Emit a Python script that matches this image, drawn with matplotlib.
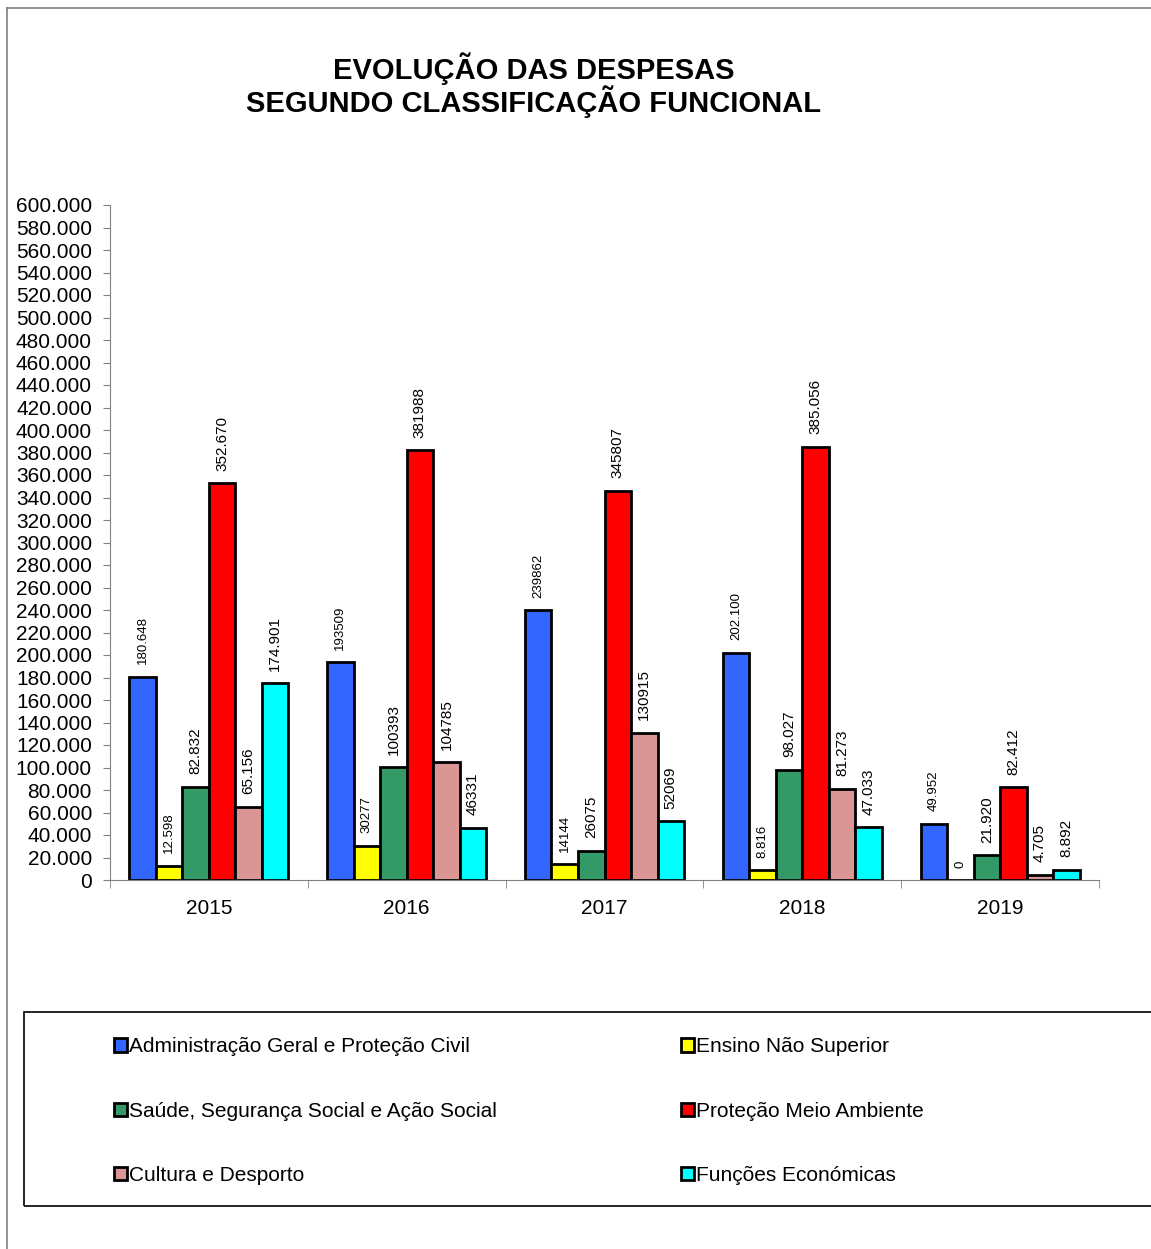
import matplotlib.pyplot as plt
from matplotlib.patches import Rectangle
from matplotlib.lines import Line2D
import numpy as np

plt.rcParams['font.family'] = ['Liberation Sans', 'DejaVu Sans']

# Data
years = ['2015', '2016', '2017', '2018', '2019']
series = ['Administração Geral e Proteção Civil', 'Ensino Não Superior',
          'Saúde, Segurança Social e Ação Social', 'Proteção Meio Ambiente',
          'Cultura e Desporto', 'Funções Económicas']
admin = [180648, 193509, 239862, 202100, 49952]
ensino = [12598, 30277, 14144, 8816, 0]
saude = [82832, 100393, 26075, 98027, 21920]
ambiente = [352670, 381988, 345807, 385056, 82412]
cultura = [65156, 104785, 130915, 81273, 4705]
economicas = [174901, 46331, 52069, 47033, 8892]
# labels of some years are written with a thousands dot
dotted = [True, False, False, True, True]

values = [admin, ensino, saude, ambiente, cultura, economicas]
colors = ['#3366FF', '#FFFF00', '#339966', '#FF0000', '#D99694', '#00FFFF']
label_sizes = [9.5, 9.5, 11, 11, 11, 11]

fig = plt.figure(figsize=(11.51, 12.49), dpi=100)
ax = fig.add_axes([110 / 1151, 1 - 880 / 1249, (1099 - 110) / 1151, (880 - 205) / 1249])

x = np.arange(len(years))
w = 0.134
handles = []
for i, (vals, c) in enumerate(zip(values, colors)):
    pos = x + (i - 2.5) * w
    b = ax.bar(pos, vals, w, color=c, edgecolor='black', linewidth=2, label=series[i])
    handles.append(b)
    for xp, v, d in zip(pos, vals, dotted):
        txt = f'{v:,}'.replace(',', '.') if d else str(v)
        ax.annotate(txt, (xp, v), xytext=(0, 9), textcoords='offset points',
                    rotation=90, ha='center', va='bottom', fontsize=label_sizes[i])

ax.set_xlim(-0.5, 4.5)
ax.set_ylim(0, 600000)
yt = np.arange(0, 600001, 20000)
ax.set_yticks(yt)
ax.set_yticklabels([f'{v:,}'.replace(',', '.') for v in yt], fontsize=15)
ax.set_xticks(x)
ax.set_xticklabels(years, fontsize=15)
ax.set_xticks(np.arange(-0.5, 5, 1), minor=True)
ax.tick_params(axis='x', which='major', length=0, pad=14)
ax.tick_params(axis='x', which='minor', length=6, color='#808080')
ax.tick_params(axis='y', length=5, color='#808080', pad=8)
for s in ['top', 'right']:
    ax.spines[s].set_visible(False)
for s in ['left', 'bottom']:
    ax.spines[s].set_color('#808080')

# Title
fig.text(534 / 1151, 1 - 69 / 1249, 'EVOLUÇÃO DAS DESPESAS', ha='center', va='center',
         fontsize=21, fontweight='bold')
fig.text(534 / 1151, 1 - 102 / 1249, 'SEGUNDO CLASSIFICAÇÃO FUNCIONAL', ha='center', va='center',
         fontsize=21, fontweight='bold')

# Outer chart border (left and top visible)
fig.add_artist(Line2D([7 / 1151, 7 / 1151], [0, 1 - 8 / 1249], color='#808080', lw=1.2))
fig.add_artist(Line2D([7 / 1151, 1], [1 - 8 / 1249, 1 - 8 / 1249], color='#808080', lw=1.2))

# Legend box
fig.add_artist(Rectangle((24 / 1151, 1 - 1206 / 1249), 1.1, (1206 - 1012) / 1249,
                         transform=fig.transFigure, fill=False, edgecolor='black', lw=1.2))

for col, idx in enumerate([[0, 2, 4], [1, 3, 5]]):
    xl = [106 / 1151, 673 / 1151][col]
    fig.legend([handles[k] for k in idx], [series[k] for k in idx],
               loc='upper left', bbox_to_anchor=(xl, 1 - 1029 / 1249),
               frameon=False, fontsize=15, handlelength=0.6, handleheight=0.6,
               handletextpad=0.1, labelspacing=2.17, borderaxespad=0)

fig.savefig('out.png', dpi=100)
